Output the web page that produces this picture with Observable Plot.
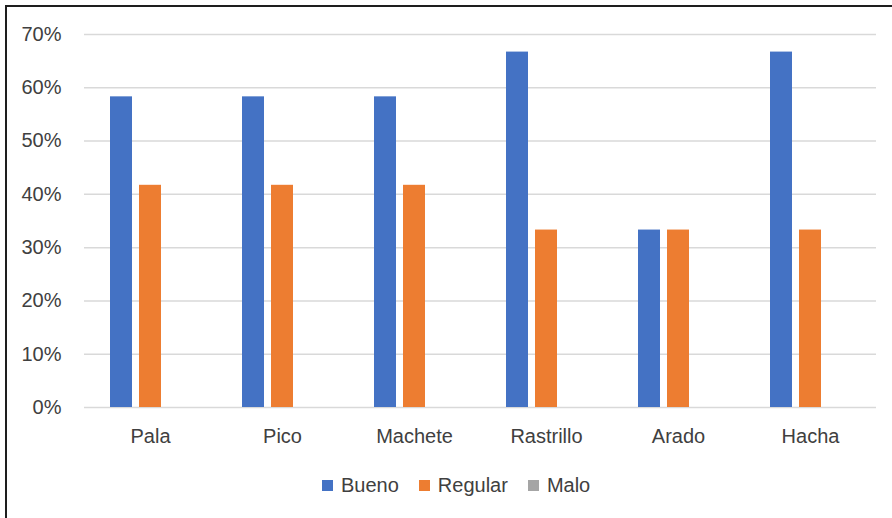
<!DOCTYPE html>
<html>
<head>
<meta charset="utf-8">
<script src="https://cdn.jsdelivr.net/npm/d3@7"></script>
<script src="https://cdn.jsdelivr.net/npm/@observablehq/plot@0.6"></script>
<style>
  html, body { margin: 0; padding: 0; background: #fff; }
  body { width: 892px; height: 518px; position: relative; overflow: hidden; font-family: "Liberation Sans", Arial, sans-serif; }
  #chart { position: absolute; left: 0; top: 0; }
  #frameTop { position: absolute; left: 5px; top: 5px; width: 900px; height: 2px; background: #1e1e1e; z-index: 5; }
  #frameLeft { position: absolute; left: 5px; top: 5px; width: 2px; height: 600px; background: #1e1e1e; z-index: 5; }
  #legend { position: absolute; left: 322px; top: 474px; display: flex; align-items: center; font-size: 20px; color: #404040; }
  #legend .item { display: flex; align-items: center; margin-right: 20px; }
  #legend .sw { width: 11px; height: 11px; margin-right: 8px; }
</style>
</head>
<body>
<div id="chart"></div>
<div id="legend"></div>
<div id="frameTop"></div>
<div id="frameLeft"></div>
<script>
const categories = ["Pala", "Pico", "Machete", "Rastrillo", "Arado", "Hacha"];
const seriesNames = ["Bueno", "Regular", "Malo"];
const bueno   = [0.583, 0.583, 0.583, 0.667, 0.333, 0.667];
const regular = [0.417, 0.417, 0.417, 0.333, 0.333, 0.333];
const malo    = [0, 0, 0, 0, 0, 0];
const yTicks = [0, 0.1, 0.2, 0.3, 0.4, 0.5, 0.6, 0.7];
const colors = ["#4472C4", "#ED7D31", "#A5A5A5"];

const seriesValues = [bueno, regular, malo];
const data = [];
categories.forEach((c, i) => {
  seriesNames.forEach((s, j) => {
    data.push({category: c, series: s, value: seriesValues[j][i]});
  });
});

const chart = Plot.plot({
  width: 892,
  height: 450,
  marginLeft: 83,
  marginRight: 15,
  marginTop: 34,
  marginBottom: 43,
  style: {fontFamily: "'Liberation Sans', Arial, sans-serif", fontSize: "20px", color: "#404040", background: "transparent"},
  fx: {domain: categories, padding: 0, label: null, axis: "bottom", tickSize: 0, tickPadding: 21},
  x: {domain: seriesNames, paddingInner: 0.24, paddingOuter: 0.86, axis: null},
  y: {domain: [0, 0.7], label: null, axis: null},
  color: {domain: seriesNames, range: colors},
  marks: [
    Plot.ruleY(yTicks, {stroke: "#d9d9d9", strokeWidth: 1.5}),
    Plot.barY(data, {fx: "category", x: "series", y: "value", fill: "series"}),
    Plot.axisY({ticks: yTicks, tickFormat: d3.format(".0%"), tickSize: 0, tickPadding: 23, label: null, fontSize: 20, fill: "#404040"})
  ]
});
document.getElementById("chart").appendChild(chart);

const legend = document.getElementById("legend");
seriesNames.forEach((s, j) => {
  const item = document.createElement("div");
  item.className = "item";
  const sw = document.createElement("div");
  sw.className = "sw";
  sw.style.background = colors[j];
  const t = document.createElement("span");
  t.textContent = s;
  item.appendChild(sw);
  item.appendChild(t);
  legend.appendChild(item);
});
</script>
</body>
</html>
